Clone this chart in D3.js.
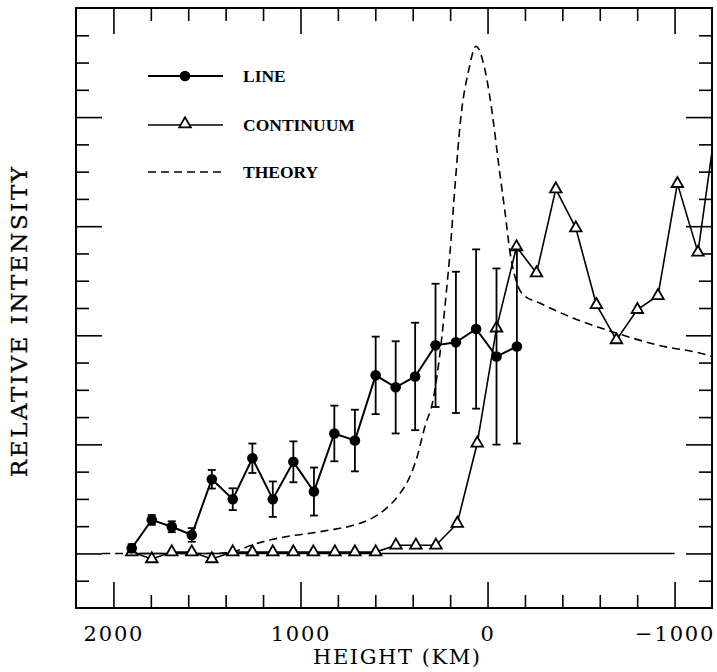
<!DOCTYPE html>
<html>
<head>
<meta charset="utf-8">
<script src="https://cdn.jsdelivr.net/npm/d3@7"></script>
<style>
  html, body { margin: 0; padding: 0; background: #fff; }
  svg { display: block; }
</style>
</head>
<body>
<svg id="chart" width="717" height="672"></svg>
<script>
// ---- data ----
const lineHeights = [1902,1795,1688,1581,1474,1362,1257,1148,1038,928,819,709,598,491,387,278,169,61,-48,-157];
const lineValues  = [0.19,1.23,0.98,0.68,2.72,1.99,3.49,1.99,3.36,2.27,4.40,4.14,6.53,6.09,6.49,7.63,7.74,8.23,7.22,7.59];
const lineErrors  = [0.15,0.18,0.20,0.25,0.34,0.40,0.54,0.65,0.75,0.88,1.02,1.13,1.42,1.69,1.97,2.26,2.59,2.92,3.23,3.56];

const contHeights = [1902,1795,1688,1581,1474,1362,1257,1148,1038,931,816,709,598,490,383,276,162,55,-48,-155,-262,-365,-472,-582,-689,-801,-911,-1015,-1125,-1232];
const contValues  = [0.05,-0.2,0.05,0.05,-0.2,0.05,0.05,0.05,0.05,0.05,0.05,0.05,0.05,0.3,0.3,0.3,1.1,4.04,8.26,11.24,10.28,13.36,11.93,9.12,7.83,8.94,9.45,13.56,11.04,16.3];

const theoryHeights = [2060,1900,1700,1500,1400,1340,1270,1160,1055,949,842,736,630,540,468,415,371,353,335,291,246,219,201,174,144,100,62,14,-30,-57,-75,-92,-119,-163,-190,-279,-457,-689,-903,-1187,-1200];
const theoryValues  = [0,0,0,0,0.02,0.1,0.28,0.5,0.64,0.74,0.86,1.0,1.25,1.66,2.2,2.82,3.68,4.17,4.65,5.63,7.83,9.67,11.0,13.46,15.9,17.74,18.6,17.74,15.9,14.4,13.46,12.6,11.1,9.8,9.49,9.18,8.63,8.08,7.65,7.25,7.22];

const zeroLine = [1902, -1000];
const xMajor = [2000, 1000, 0, -1000];
const xMinor = [1800,1600,1400,1200,800,600,400,200,-200,-400,-600,-800];
const yMajor = [0, 4, 8, 12, 16];
const yMinor = [-1,1,2,3,5,6,7,9,10,11,13,14,15,17,18,19];
const legendItems = ["LINE", "CONTINUUM", "THEORY"];
const xTitle = "HEIGHT (KM)";
const yTitle = "RELATIVE INTENSITY";

// ---- layout ----
const L = 76, R = 712, T = 8, B = 608;
const svg = d3.select("#chart");
const x = d3.scaleLinear().domain([2200, -1200]).range([L, R]);
const y = d3.scaleLinear().domain([-2, 20]).range([B, T]);

svg.append("defs").append("clipPath").attr("id", "plot")
  .append("rect").attr("x", L).attr("y", T).attr("width", R - L).attr("height", B - T);

// axes ticks (inward on all four sides)
function tickAxis(axisFn, scale, vals, len, transform) {
  const g = svg.append("g").attr("transform", transform)
    .call(axisFn(scale).tickValues(vals).tickSize(-len).tickSizeOuter(0).tickFormat(""));
  g.select(".domain").remove();
  g.selectAll("line").attr("stroke", "#000").attr("stroke-width", 1.6);
}
tickAxis(d3.axisBottom, x, xMinor, 13, `translate(0,${B})`);
tickAxis(d3.axisBottom, x, xMajor, 26, `translate(0,${B})`);
tickAxis(d3.axisTop, x, xMinor, 13, `translate(0,${T})`);
tickAxis(d3.axisTop, x, xMajor, 26, `translate(0,${T})`);
tickAxis(d3.axisLeft, y, yMinor, 13, `translate(${L},0)`);
tickAxis(d3.axisLeft, y, yMajor, 26, `translate(${L},0)`);
tickAxis(d3.axisRight, y, yMinor, 13, `translate(${R},0)`);
tickAxis(d3.axisRight, y, yMajor, 26, `translate(${R},0)`);

// tick labels
const lab = svg.append("g").attr("transform", `translate(0,${B})`)
  .call(d3.axisBottom(x).tickValues(xMajor).tickSize(0).tickPadding(18).tickFormat(d3.format("d")));
lab.select(".domain").remove();
lab.selectAll("text").attr("font-family", "DejaVu Serif").attr("font-size", 21)
  .attr("letter-spacing", "1.8px").attr("fill", "#000").attr("dy", "0.71em");

// frame
svg.append("rect").attr("x", L).attr("y", T).attr("width", R - L).attr("height", B - T)
  .attr("fill", "none").attr("stroke", "#000").attr("stroke-width", 2);

// titles
svg.append("text").attr("x", 396.5).attr("y", 664).attr("text-anchor", "middle")
  .attr("font-family", "DejaVu Serif").attr("font-size", 21)
  .attr("textLength", 167).attr("lengthAdjust", "spacing").text(xTitle);
svg.append("text").attr("transform", "translate(27,322) rotate(-90)").attr("text-anchor", "middle")
  .attr("font-family", "DejaVu Serif").attr("font-size", 23)
  .attr("stroke", "#000").attr("stroke-width", 0.3)
  .attr("textLength", 310).attr("lengthAdjust", "spacing").text(yTitle);

const plot = svg.append("g").attr("clip-path", "url(#plot)");

// zero line
plot.append("line").attr("x1", x(zeroLine[0])).attr("x2", x(zeroLine[1]))
  .attr("y1", y(0)).attr("y2", y(0)).attr("stroke", "#000").attr("stroke-width", 1.6);

// theory
const theory = theoryHeights.map((h, i) => [x(h), y(theoryValues[i])]);
plot.append("path").attr("d", d3.line().curve(d3.curveMonotoneX)(theory))
  .attr("fill", "none").attr("stroke", "#000").attr("stroke-width", 1.6).attr("stroke-dasharray", "8,5");

// continuum
const cont = contHeights.map((h, i) => [x(h), y(contValues[i])]);
plot.append("path").attr("d", d3.line()(cont))
  .attr("fill", "none").attr("stroke", "#000").attr("stroke-width", 1.6);
const tri = d3.symbol().type(d3.symbolTriangle).size(58);
plot.selectAll(".tri").data(cont).join("path").attr("class", "tri")
  .attr("transform", d => `translate(${d[0]},${d[1]})`).attr("d", tri)
  .attr("fill", "#fff").attr("stroke", "#000").attr("stroke-width", 1.8);

// line series with error bars
const lineD = lineHeights.map((h, i) => ({h, v: lineValues[i], e: lineErrors[i]}));
const eb = plot.append("g").attr("stroke", "#000").attr("stroke-width", 1.8);
lineD.forEach(d => {
  const cx = x(d.h), y1 = y(d.v + d.e), y2 = y(d.v - d.e);
  eb.append("line").attr("x1", cx).attr("x2", cx).attr("y1", y1).attr("y2", y2);
  eb.append("line").attr("x1", cx - 4).attr("x2", cx + 4).attr("y1", y1).attr("y2", y1);
  eb.append("line").attr("x1", cx - 4).attr("x2", cx + 4).attr("y1", y2).attr("y2", y2);
});
plot.append("path").attr("d", d3.line()(lineD.map(d => [x(d.h), y(d.v)])))
  .attr("fill", "none").attr("stroke", "#000").attr("stroke-width", 2);
plot.selectAll(".dot").data(lineD).join("circle").attr("class", "dot")
  .attr("cx", d => x(d.h)).attr("cy", d => y(d.v)).attr("r", 5.3).attr("fill", "#000");

// legend
const lg = svg.append("g");
const ly = [76, 125, 172];
lg.append("line").attr("x1", 148).attr("x2", 223).attr("y1", ly[0]).attr("y2", ly[0]).attr("stroke", "#000").attr("stroke-width", 2);
lg.append("circle").attr("cx", 185).attr("cy", ly[0]).attr("r", 5.3).attr("fill", "#000");
lg.append("line").attr("x1", 148).attr("x2", 223).attr("y1", ly[1]).attr("y2", ly[1]).attr("stroke", "#000").attr("stroke-width", 1.6);
lg.append("path").attr("transform", `translate(185,${ly[1] - 1})`).attr("d", tri)
  .attr("fill", "#fff").attr("stroke", "#000").attr("stroke-width", 1.8);
lg.append("line").attr("x1", 148).attr("x2", 223).attr("y1", ly[2]).attr("y2", ly[2]).attr("stroke", "#000")
  .attr("stroke-width", 1.6).attr("stroke-dasharray", "8,5");
lg.selectAll("text").data(legendItems).join("text")
  .attr("x", 243).attr("y", (d, i) => ly[i] + 6)
  .attr("font-family", "Liberation Serif").attr("font-weight", "bold").attr("font-size", 17.5)
  .text(d => d);
</script>
</body>
</html>
